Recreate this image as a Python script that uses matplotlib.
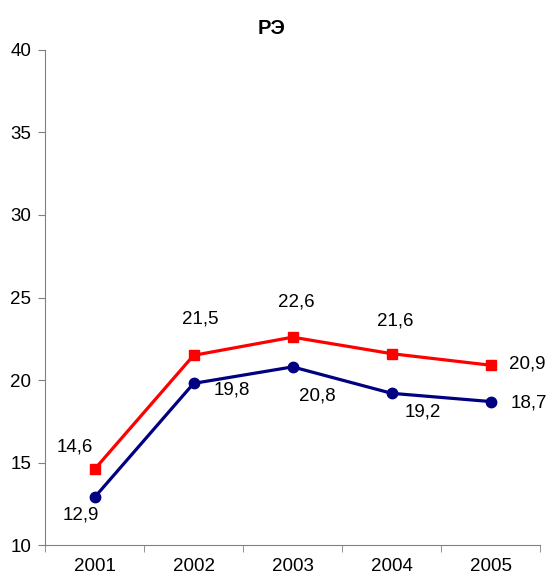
import matplotlib.pyplot as plt

plt.rcParams["font.family"] = ["Liberation Sans", "DejaVu Sans"]

years = ["2001", "2002", "2003", "2004", "2005"]
red_vals = [14.6, 21.5, 22.6, 21.6, 20.9]
navy_vals = [12.9, 19.8, 20.8, 19.2, 18.7]

# label offsets in pixels (x, y)
red_off = [(-20, 22), (7, 36), (4, 35), (4, 33), (37, 1)]
navy_off = [(-14, -18), (38, -7), (25, -29), (31, -19), (38, -1)]

fig = plt.figure(figsize=(5.5, 5.8), dpi=100)
ax = fig.add_axes([0.082, 0.060, 0.9, 0.854])

x = list(range(len(years)))
ax.plot(x, red_vals, color="#FF0000", lw=2.3, marker="s", ms=7, zorder=3)
ax.plot(x, navy_vals, color="#000080", lw=2.3, marker="o", ms=7.5, zorder=3)

for xi, v, off in zip(x, red_vals, red_off):
    ax.annotate(f"{v:.1f}".replace(".", ","), (xi, v), xytext=off,
                textcoords="offset pixels", ha="center", va="center", fontsize=13.5)
for xi, v, off in zip(x, navy_vals, navy_off):
    ax.annotate(f"{v:.1f}".replace(".", ","), (xi, v), xytext=off,
                textcoords="offset pixels", ha="center", va="center", fontsize=13.5)

ax.set_xlim(-0.5, 4.5)
ax.set_ylim(10, 40)
ax.set_yticks(range(10, 41, 5))
ax.set_xticks(x)
ax.set_xticklabels(years, fontsize=13.5)
ax.set_xticks([i - 0.5 for i in range(6)], minor=True)
ax.tick_params(axis="x", which="major", length=0, pad=9)
ax.tick_params(axis="x", which="minor", length=5, direction="out", color="#808080")
ax.tick_params(axis="y", length=5, direction="out", color="#808080", labelsize=13.5, pad=5)

for s in ["top", "right"]:
    ax.spines[s].set_visible(False)
for s in ["left", "bottom"]:
    ax.spines[s].set_color("#808080")

fig.text(272 / 550, 1 - 28 / 580, "РЭ", ha="center", va="center",
         fontsize=14.5, fontweight="bold")

fig.savefig("out.png", dpi=100)
